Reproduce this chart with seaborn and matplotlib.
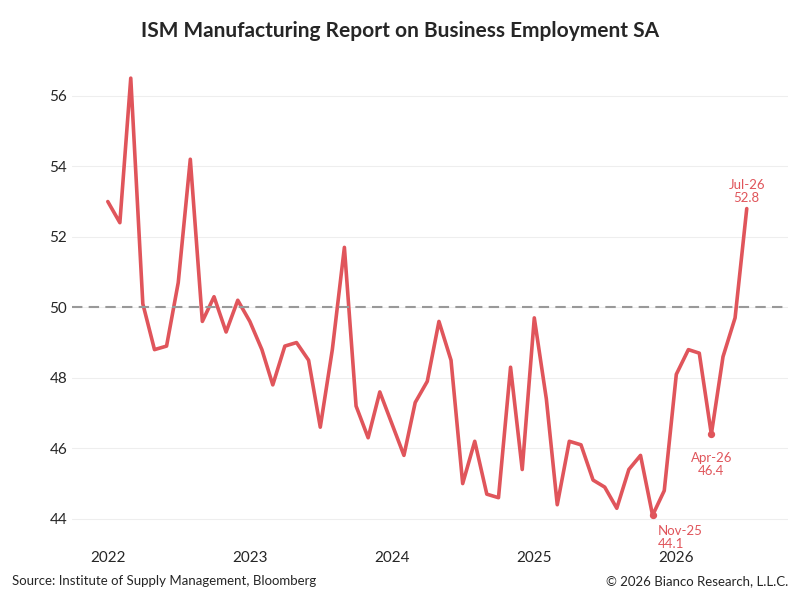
import pandas as pd
import numpy as np
import matplotlib
matplotlib.use("Agg")
import matplotlib.pyplot as plt
import matplotlib.dates as mdates
import seaborn as sns

values = [
    53.0, 52.4, 56.5, 50.1, 48.8, 48.9, 50.7, 54.2, 49.6, 50.3, 49.3, 50.2,
    49.6, 48.8, 47.8, 48.9, 49.0, 48.5, 46.6, 48.8, 51.7, 47.2, 46.3, 47.6,
    46.7, 45.8, 47.3, 47.9, 49.6, 48.5, 45.0, 46.2, 44.7, 44.6, 48.3, 45.4,
    49.7, 47.4, 44.4, 46.2, 46.1, 45.1, 44.9, 44.3, 45.4, 45.8, 44.1, 44.8,
    48.1, 48.8, 48.7, 46.4, 48.6, 49.7, 52.8,
]
dates = pd.date_range("2022-01-01", periods=len(values), freq="MS")
df = pd.DataFrame({"date": dates, "value": values})

red = "#e0555b"
sns.set_style("white")
plt.rcParams["font.family"] = ["Lato", "DejaVu Sans"]

fig, ax = plt.subplots(figsize=(8, 6), dpi=100)
sns.lineplot(data=df, x="date", y="value", color=red, linewidth=2.6, ax=ax)
ax.axhline(50, color="#999999", linestyle=(0, (5, 3)), linewidth=1.5)
ax.grid(axis="y", color="#eeeeee", linewidth=0.8)
ax.set_axisbelow(True)

# annotations
for lab, dx, ha, off in [("Nov-25", 0, "left", (4, -16)), ("Apr-26", 0, "center", (0, -22)),
                         ("Jul-26", 0, "center", (0, 12))]:
    d = pd.Timestamp("20" + lab[-2:] + "-" + {"Nov": "11", "Apr": "04", "Jul": "07"}[lab[:3]] + "-01")
    v = df.loc[df.date == d, "value"].iloc[0]
    if lab != "Jul-26":
        ax.scatter([d], [v], color=red, s=18, zorder=5)
    ax.annotate(f"{lab}\n{v:.1f}", (d, v), textcoords="offset points", xytext=off,
                ha=ha, va="center", color=red, fontsize=9.5, linespacing=1.1)

ax.set_ylim(43.4, 57.1)
ax.set_yticks([44, 46, 48, 50, 52, 54, 56])
ax.set_xlim(pd.Timestamp("2021-10-01"), pd.Timestamp("2026-10-15"))
ax.xaxis.set_major_locator(mdates.YearLocator())
ax.xaxis.set_major_formatter(mdates.DateFormatter("%Y"))
ax.xaxis.set_minor_locator(mdates.MonthLocator())
ax.tick_params(axis="x", which="minor", length=3, color="#dddddd")
ax.tick_params(axis="x", which="major", length=0, labelsize=11, pad=8)
ax.tick_params(axis="y", length=0, labelsize=11)
ax.set_xlabel("")
ax.set_ylabel("")
sns.despine(ax=ax, left=True, bottom=True)

fig.suptitle("ISM Manufacturing Report on Business Employment SA", fontsize=15,
             fontweight="bold", y=0.965)
fig.text(0.015, 0.025, "Source: Institute of Supply Management, Bloomberg", fontsize=9.5)
fig.text(0.985, 0.025, "© 2026 Bianco Research, L.L.C.", fontsize=9.5, ha="right")
fig.subplots_adjust(left=0.09, right=0.985, top=0.905, bottom=0.1)
fig.savefig("out.png", dpi=100)
